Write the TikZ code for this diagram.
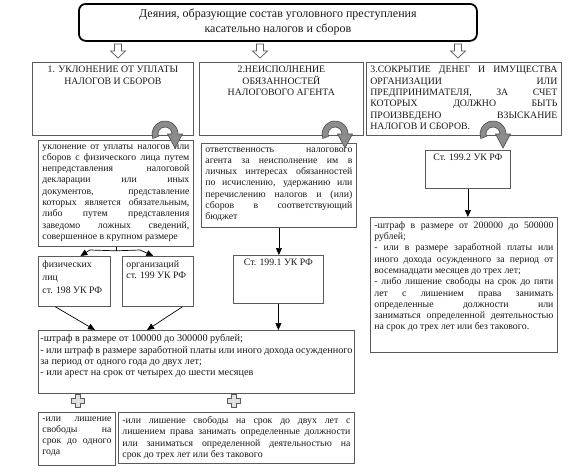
\documentclass[tikz,border=0pt]{standalone}
\usepackage{fontspec}
\setmainfont{Liberation Serif}
\usetikzlibrary{arrows.meta}
\definecolor{boxc}{HTML}{5A5A5A}
\definecolor{txt}{HTML}{1A1A1A}
\newcommand\bt{\fontsize{9.8}{11.3}\selectfont}
\newcommand\jl[1]{\makebox[\linewidth][s]{#1}\\}
\begin{document}
\begin{tikzpicture}[x=1pt,y=-1pt,
  box/.style={draw=boxc, line width=0.8pt, inner sep=4pt, anchor=north west, font=\bt, text=txt},
  arr/.style={-{Triangle[length=7pt,width=6pt]}, line width=0.7pt, black},
  blk/.style={draw=boxc, fill=white, line width=0.7pt},
  curv/.style={draw=black!70, fill=black!45, line width=0.6pt}]
\useasboundingbox (0,0) rectangle (583,471);
\fill[white] (0,0) rectangle (583,471);

\node[draw, line width=1.8pt, rounded corners=7pt, minimum width=398pt, minimum height=37pt,
  anchor=north west, align=center, text=txt, font=\fontsize{12}{15}\selectfont] (title) at (78,3)
  {Деяния, образующие состав уголовного преступления\\касательно налогов и сборов};

\foreach \x in {118,260,458}{
  \begin{scope}[shift={(\x,44)}]
  \draw[blk] (-3.5,0) -- (3.5,0) -- (3.5,7) -- (7.5,7) -- (0,14) -- (-7.5,7) -- (-3.5,7) -- cycle;
  \end{scope}}

\node[box] (b1) at (32,62) {\parbox[c][65pt][t]{153pt}{\centering 1. УКЛОНЕНИЕ ОТ УПЛАТЫ\\НАЛОГОВ И СБОРОВ}};
\node[box] (b2) at (199,62) {\parbox[c][65pt][t]{156pt}{\centering 2.НЕИСПОЛНЕНИЕ\\ОБЯЗАННОСТЕЙ\\НАЛОГОВОГО АГЕНТА}};
\node[box] (b3) at (366,62) {\parbox[c][65pt][t]{187pt}{\jl{3.СОКРЫТИЕ ДЕНЕГ И ИМУЩЕСТВА}\jl{ОРГАНИЗАЦИИ ИЛИ}\jl{ПРЕДПРИНИМАТЕЛЯ, ЗА СЧЕТ}\jl{КОТОРЫХ ДОЛЖНО БЫТЬ}\jl{ПРОИЗВЕДЕНО ВЗЫСКАНИЕ}НАЛОГОВ И СБОРОВ.}};

\node[box] (d1) at (38,140) {\parbox[c][98pt][t]{147pt}{\jl{уклонение от уплаты налогов или}\jl{сборов с физического лица путем}\jl{непредставления налоговой}\jl{декларации или иных}\jl{документов, представление}\jl{которых является обязательным,}\jl{либо путем представления}\jl{заведомо ложных сведений,}совершенное в крупном размере}};
\node[box] (d2) at (201,143) {\parbox[c][76pt][t]{147pt}{\jl{ответственность налогового}\jl{агента за неисполнение им в}\jl{личных интересах обязанностей}\jl{по исчислению, удержанию или}\jl{перечислению налогов и (или)}\jl{сборов в соответствующий}бюджет}};
\node[box] (s2) at (425,150) {\parbox[c][30pt][t]{77pt}{\centering Ст. 199.2 УК РФ}};
\node[box] (p2) at (370,217) {\parbox[c][127pt][t]{179pt}{\jl{-штраф в размере от 200000 до 500000}рублей;\\\jl{- или в размере заработной платы или}\jl{иного дохода осужденного за период от}восемнадцати месяцев до трех лет;\\\jl{- либо лишение свободы на срок до пяти}\jl{лет с лишением права занимать}\jl{определенные должности или}\jl{заниматься определенной деятельностью}на срок до трех лет или без таковогo.}};

\node[box] (f) at (38,256) {\parbox[c][42pt][t]{64pt}{\fontsize{9.8}{13}\selectfont физических\\лиц\\ст. 198 УК РФ}};
\node[box] (o) at (122,256) {\parbox[c][42pt][t]{63pt}{организаций\\ст. 199 УК РФ}};
\node[box] (s1) at (233,255) {\parbox[c][40pt][t]{82pt}{\centering Ст. 199.1 УК РФ}};

\node[box, inner xsep=2pt, font=\fontsize{10.2}{11.4}\selectfont] (p1) at (38,330) {\parbox[c][55pt][t]{312pt}{-штраф в размере от 100000 до 300000 рублей;\\- или штраф в размере заработной платы или иного дохода осужденного\\за период от одного года до двух лет;\\- или арест на срок от четырех до шести месяцев}};

\node[box] (q1) at (38,412) {\parbox[c][45pt][t]{69pt}{\jl{-или лишение}\jl{свободы на}\jl{срок до одного}года}};
\node[box] (q2) at (118,412) {\parbox[c][43pt][t]{228pt}{\jl{-или лишение свободы на срок до двух лет с}\jl{лишением права занимать определенные должности}\jl{или заниматься определенной деятельностью на}срок до трех лет или без таковогo}};

\foreach \cx in {165,335,493}{
  \begin{scope}[shift={(\cx,134)}]
  \draw[curv] (160:13) arc[start angle=160, end angle=360, radius=13] -- (17.5,0) -- (10,14) -- (2.5,0) -- (7,0) arc[start angle=360, end angle=160, radius=7] -- cycle;
  \end{scope}}

\foreach \x in {78,234}{
  \begin{scope}[shift={(\x,401)}]
  \draw[blk, fill=black!12] (-2.5,-6.5) -- (2.5,-6.5) -- (2.5,-2.5) -- (6.5,-2.5) -- (6.5,2.5) -- (2.5,2.5) -- (2.5,6.5) -- (-2.5,6.5) -- (-2.5,2.5) -- (-6.5,2.5) -- (-6.5,-2.5) -- (-2.5,-2.5) -- cycle;
  \end{scope}}

\coordinate (j) at ([yshift=-4pt]d1.south);
\draw[line width=0.7pt] (d1.south) -- (j);
\draw[arr] (j) -- (90,250) -- ([xshift=6pt]f.north);
\draw[arr] (j) -- (140,250) -- ([xshift=-4.5pt]o.north);
\draw[arr] (d2.south) -- (d2.south |- s1.north);
\draw[arr] ([xshift=-19pt]f.south) -- ([xshift=57pt]p1.north west);
\draw[arr] ([xshift=24.5pt]o.south) -- ([xshift=109pt]p1.north west);
\draw[arr] (s1.south) -- (s1.south |- p1.north);
\draw[arr] (s2.south) -- (s2.south |- p2.north);
\end{tikzpicture}
\end{document}
